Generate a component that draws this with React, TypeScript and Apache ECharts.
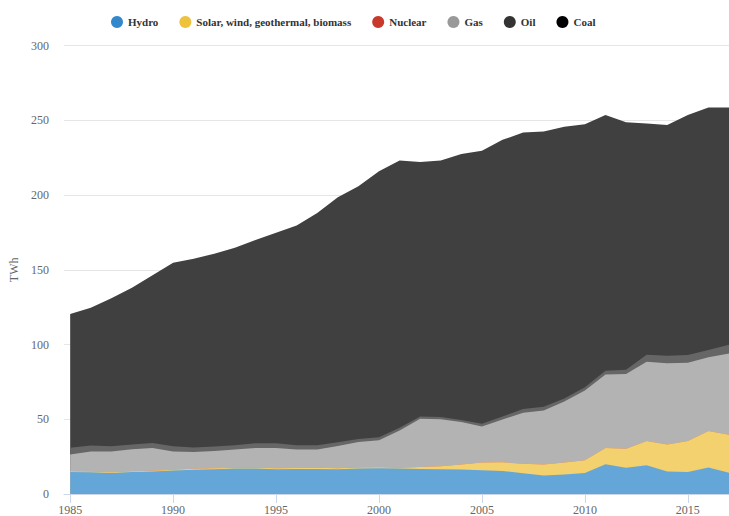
import React, { useEffect, useRef } from "react";
import * as echarts from "echarts";

const years = [1985,1986,1987,1988,1989,1990,1991,1992,1993,1994,1995,1996,1997,1998,1999,2000,2001,2002,2003,2004,2005,2006,2007,2008,2009,2010,2011,2012,2013,2014,2015,2016,2017];
const tickYears = [1985, 1990, 1995, 2000, 2005, 2010, 2015];

const hydro = [14.8,14.6,14.1,14.8,15.0,15.7,16.3,16.6,17.0,17.0,16.6,16.8,16.8,16.6,17.0,17.2,17.0,16.8,16.6,16.4,15.9,15.4,13.9,12.3,13.0,14.1,19.9,17.5,19.2,15.0,14.8,17.7,14.3];
const solar = [0.5,0.5,0.5,0.5,0.5,0.5,0.6,0.6,0.6,0.6,0.6,0.6,0.7,0.7,0.7,0.7,0.5,1.2,1.9,3.3,5.1,5.8,6.4,7.4,8.0,8.5,10.9,12.8,16.2,18.2,20.6,24.4,25.4];
const nuclear = [0,0,0,0,0,0,0,0,0,0,0,0,0,0,0,0,0,0,0,0,0,0,0,0,0,0,0,0,0,0,0,0,0];
const gas = [11.2,13.4,13.9,14.6,15.3,12.3,11.2,11.6,12.1,13.2,13.6,12.3,12.2,14.8,17.1,18.1,25.0,32.3,31.5,28.4,24.2,28.7,34.0,36.2,40.9,46.6,49.1,50.0,53.1,54.3,52.4,49.4,54.4];
const oil = [4.5,4.0,3.5,3.3,3.3,3.5,3.0,3.0,3.0,3.2,3.2,3.0,3.0,2.5,2.0,2.0,1.8,1.5,1.5,1.5,1.8,2.0,2.5,2.5,2.0,2.3,2.6,2.9,4.7,5.0,5.2,4.8,5.8];
const coal = [89.5,92.2,99.0,104.8,112.3,122.8,126.4,129.0,132.1,135.9,140.8,147.0,155.3,163.9,169.1,177.9,178.9,170.3,171.7,177.9,182.7,185.1,185.1,184.2,181.8,176.0,171.2,165.6,154.7,154.5,160.7,162.3,158.7];

// legend colour, and the area colour (legend colour at 75% opacity over the layer beneath)
const seriesDefs = [
  { name: "Hydro", color: "#3388cc", area: "#65a6d9", values: hydro },
  { name: "Solar, wind, geothermal, biomass", color: "#eec23c", area: "#f2d16e", values: solar },
  { name: "Nuclear", color: "#c8392b", area: "#d66a60", values: nuclear },
  { name: "Gas", color: "#999999", area: "#b3b3b3", values: gas },
  { name: "Oil", color: "#333333", area: "#666666", values: oil },
  { name: "Coal", color: "#000000", area: "#404040", values: coal },
];

const FONT = "'Liberation Serif', 'Times New Roman', serif";

export default function App() {
  const ref = useRef<HTMLDivElement>(null);
  useEffect(() => {
    if (!ref.current) return;
    const chart = echarts.init(ref.current, null, { renderer: "svg" });
    // cumulative tops of each layer (stacked areas on a value x axis)
    const running = years.map(() => 0);
    const stacked = seriesDefs.map((s) => {
      const tops = s.values.map((v, i) => (running[i] += v));
      return { ...s, tops: tops.slice() };
    });
    const n = stacked.length;
    chart.setOption({
      animation: false,
      textStyle: { fontFamily: FONT },
      legend: {
        left: 106,
        top: 11,
        icon: "circle",
        itemWidth: 12,
        itemHeight: 12,
        itemGap: 21,
        textStyle: { fontFamily: FONT, fontSize: 11, fontWeight: "bold", color: "#333333" },
        data: seriesDefs.map((s) => s.name),
      },
      grid: { left: 63, right: 0, top: 45.7, bottom: 21.5, containLabel: false },
      xAxis: {
        type: "value",
        min: 1984.7,
        max: 2017,
        axisLine: { show: true, lineStyle: { color: "#ccd6eb", width: 1 } },
        axisTick: { show: true, length: 9, lineStyle: { color: "#ccd6eb" }, customValues: tickYears },
        axisLabel: {
          customValues: tickYears,
          margin: 10,
          color: "#666666",
          fontFamily: FONT,
          fontSize: 12,
          formatter: (v: number) => String(v),
        },
        splitLine: { show: false },
      },
      yAxis: {
        type: "value",
        min: 0,
        max: 300,
        interval: 50,
        name: "TWh",
        nameLocation: "middle",
        nameGap: 44,
        nameTextStyle: { color: "#666666", fontFamily: FONT, fontSize: 12 },
        axisLine: { show: false },
        axisTick: { show: false },
        axisLabel: { margin: 15, color: "#666666", fontFamily: FONT, fontSize: 12 },
        splitLine: { lineStyle: { color: "#e6e6e6", width: 1 } },
      },
      series: stacked
        .map((s, k) => ({
          name: s.name,
          type: "line",
          z: 2 + (n - k),
          symbol: "none",
          showSymbol: false,
          lineStyle: { width: 0 },
          itemStyle: { color: s.color },
          areaStyle: { color: s.area, opacity: 1 },
          data: years.map((y, i) => [y, s.tops[i]]),
        }))
        .reverse(),
    });
    return () => chart.dispose();
  }, []);
  return (
    <div
      ref={ref}
      style={{ position: "absolute", left: 0, top: 0, width: 729, height: 516 }}
    />
  );
}
